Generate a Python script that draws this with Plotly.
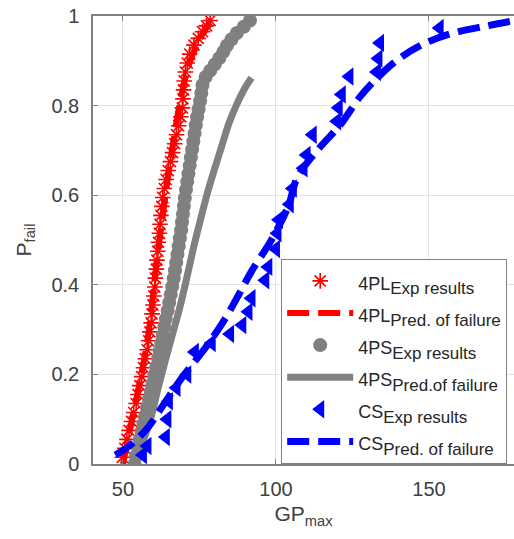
import plotly.graph_objects as go

# ---- data ----
pl_exp_x = [49.8, 50.6, 51.3, 52.0, 52.8, 53.5, 54.3, 54.9, 55.5, 56.1, 56.7, 57.3, 57.9, 58.4,
            58.8, 59.2, 59.5, 59.8, 60.1, 60.4, 60.6, 60.9, 61.1, 61.4, 61.6, 61.9, 62.1, 62.4,
            62.7, 63.0, 63.5, 64.1, 64.8, 65.5, 66.2, 66.9, 67.5, 68.2, 68.9, 69.4, 69.6, 69.8,
            70.0, 70.4, 71.0, 71.8, 73.2, 74.6, 76.0, 77.3, 78.5]
pl_exp_p = [0.015, 0.035, 0.055, 0.075, 0.095, 0.115, 0.135, 0.155, 0.175, 0.195, 0.215, 0.235,
            0.255, 0.275, 0.295, 0.315, 0.335, 0.355, 0.375, 0.395, 0.415, 0.435, 0.455, 0.475,
            0.495, 0.515, 0.535, 0.555, 0.575, 0.595, 0.615, 0.635, 0.655, 0.675, 0.695, 0.715,
            0.735, 0.755, 0.775, 0.795, 0.815, 0.835, 0.855, 0.875, 0.895, 0.915, 0.935, 0.950,
            0.965, 0.978, 0.990]

pl_pred_x = [50.0, 53.0, 56.0, 58.5, 61.0, 63.5, 66.0, 69.0, 72.0, 76.0, 78.5]
pl_pred_p = [0.00, 0.10, 0.20, 0.30, 0.45, 0.58, 0.70, 0.82, 0.90, 0.96, 0.985]

ps_exp_x = [53.8, 54.3, 54.9, 55.5, 56.1, 56.7, 57.3, 57.9, 58.5, 59.1, 59.7, 60.3, 60.9, 61.5,
            62.0, 62.5, 63.0, 63.5, 64.0, 64.6, 65.1, 65.6, 66.1, 66.6, 67.0, 67.4, 67.8, 68.2,
            68.6, 69.0, 69.3, 69.6, 69.9, 70.2, 70.6, 71.0, 71.4, 71.8, 72.2, 72.6, 73.0, 73.4,
            73.8, 74.2, 74.7, 75.2, 75.6, 76.0, 77.0, 78.5, 80.0, 81.5, 82.8, 84.0, 85.5, 87.2,
            89.5, 91.5]
ps_exp_p = [0.000, 0.018, 0.036, 0.054, 0.072, 0.090, 0.108, 0.126, 0.144, 0.162, 0.180, 0.198,
            0.216, 0.234, 0.252, 0.270, 0.288, 0.306, 0.324, 0.342, 0.360, 0.378, 0.396, 0.414,
            0.432, 0.450, 0.468, 0.486, 0.504, 0.522, 0.540, 0.558, 0.576, 0.594, 0.612, 0.630,
            0.648, 0.666, 0.684, 0.702, 0.720, 0.738, 0.756, 0.774, 0.792, 0.810, 0.828, 0.846,
            0.864, 0.878, 0.892, 0.906, 0.920, 0.934, 0.948, 0.962, 0.976, 0.990]

ps_pred_x = [53.5, 56.5, 59.0, 61.5, 63.8, 66.2, 68.6, 71.0, 73.3, 75.5, 77.8, 80.0, 82.3,
             84.6, 87.0, 89.5, 92.0]
ps_pred_p = [0.00, 0.05, 0.10, 0.17, 0.23, 0.29, 0.35, 0.42, 0.49, 0.55, 0.61, 0.66, 0.71,
             0.76, 0.80, 0.835, 0.862]

cs_exp_x = [56.5, 58.0, 64.0, 64.5, 65.0, 67.5, 71.0, 73.5, 79.0, 85.0, 89.0, 91.0, 92.0, 96.5,
            97.5, 100.0, 100.5, 101.0, 104.5, 105.5, 109.0, 110.0, 112.0, 120.0, 120.5, 121.5,
            124.0, 133.0, 133.5, 134.0, 153.5]
cs_exp_p = [0.02, 0.04, 0.06, 0.10, 0.14, 0.17, 0.20, 0.25, 0.27, 0.29, 0.31, 0.34, 0.37, 0.41,
            0.44, 0.48, 0.515, 0.545, 0.58, 0.615, 0.66, 0.69, 0.735, 0.765, 0.795, 0.825,
            0.865, 0.875, 0.905, 0.94, 0.973]

cs_pred_x = [47.5, 52.0, 58.0, 63.0, 69.0, 77.0, 83.0, 88.0, 92.0, 98.5, 104.0, 107.0, 113.5,
             121.0, 127.5, 134.0, 140.5, 149.0, 158.0, 169.0, 178.0]
cs_pred_p = [0.02, 0.04, 0.08, 0.13, 0.19, 0.26, 0.32, 0.38, 0.43, 0.50, 0.575, 0.64, 0.70,
             0.757, 0.82, 0.868, 0.906, 0.94, 0.962, 0.978, 0.99]

x_ticks = [50, 100, 150]
y_ticks = [0, 0.2, 0.4, 0.6, 0.8, 1]
y_tick_text = ["0", "0.2", "0.4", "0.6", "0.8", "1"]

series = ["4PL", "4PL", "4PS", "4PS", "CS", "CS"]
subs = ["Exp results", "Pred. of failure", "Exp results", "Pred.of failure",
        "Exp results", "Pred. of failure"]


def label(i):
    return (f"<span style='font-size:18px'>{series[i]}</span>"
            f"<sub><span style='font-size:17px'>{subs[i]}</span></sub>")


RED = "#ff0000"
GRAY = "#808080"
BLUE = "#0000ff"
DASH = "22px,9px"

fig = go.Figure()
# drawing order: red prediction under its stars; legend order fixed with legendrank
fig.add_trace(go.Scatter(x=pl_pred_x, y=pl_pred_p, mode="lines", name=label(1), legendrank=2,
                         line=dict(color=RED, width=6, dash=DASH, shape="spline")))
fig.add_trace(go.Scatter(x=pl_exp_x, y=pl_exp_p, mode="markers", name=label(0), legendrank=1,
                         marker=dict(symbol="asterisk-open", size=13, color=RED,
                                     line=dict(color=RED, width=1.6))))
fig.add_trace(go.Scatter(x=ps_exp_x, y=ps_exp_p, mode="markers", name=label(2), legendrank=3,
                         marker=dict(symbol="circle", size=14, color=GRAY, line=dict(width=0))))
fig.add_trace(go.Scatter(x=ps_pred_x, y=ps_pred_p, mode="lines", name=label(3), legendrank=4,
                         line=dict(color=GRAY, width=7, shape="spline")))
fig.add_trace(go.Scatter(x=cs_exp_x, y=cs_exp_p, mode="markers", name=label(4), legendrank=5,
                         marker=dict(symbol="triangle-left", size=16, color=BLUE, line=dict(width=0))))
fig.add_trace(go.Scatter(x=cs_pred_x, y=cs_pred_p, mode="lines", name=label(5), legendrank=6,
                         line=dict(color=BLUE, width=7, dash=DASH, shape="spline")))

axis_font = dict(family="Liberation Sans, Arial, sans-serif", size=20, color="#404040")

fig.update_layout(
    width=514, height=539,
    margin=dict(l=93, r=0, t=16, b=75),
    paper_bgcolor="white", plot_bgcolor="white",
    font=dict(family="Liberation Sans, Arial, sans-serif", color="#262626"),
    showlegend=True,
    legend=dict(x=0.447, y=0.458, xanchor="left", yanchor="top",
                bgcolor="white", bordercolor="#808080", borderwidth=1,
                font=dict(size=22.4, color="#262626"), itemwidth=66,
                traceorder="normal"),
    xaxis=dict(range=[40.2, 177.8], tickvals=x_ticks, ticks="inside", ticklen=5,
               tickcolor="#808080", showline=True, linecolor="#808080", linewidth=1.5,
               mirror="ticks", showgrid=True, gridcolor="#e3e3e3", gridwidth=1,
               zeroline=False, tickfont=axis_font, ticklabelstandoff=6,
               title=dict(text="GP<sub>max</sub>", font=dict(size=21, color="#404040"),
                          standoff=8)),
    yaxis=dict(range=[0, 1], tickvals=y_ticks, ticktext=y_tick_text, ticks="inside",
               ticklen=5, tickcolor="#808080", showline=True, linecolor="#808080",
               linewidth=1.5, mirror=False, showgrid=True, gridcolor="#e3e3e3",
               gridwidth=1, zeroline=False, tickfont=axis_font, ticklabelstandoff=8,
               title=dict(text="P<sub>fail</sub>", font=dict(size=21, color="#404040"),
                          standoff=14)),
)

fig.write_html("out.html")
